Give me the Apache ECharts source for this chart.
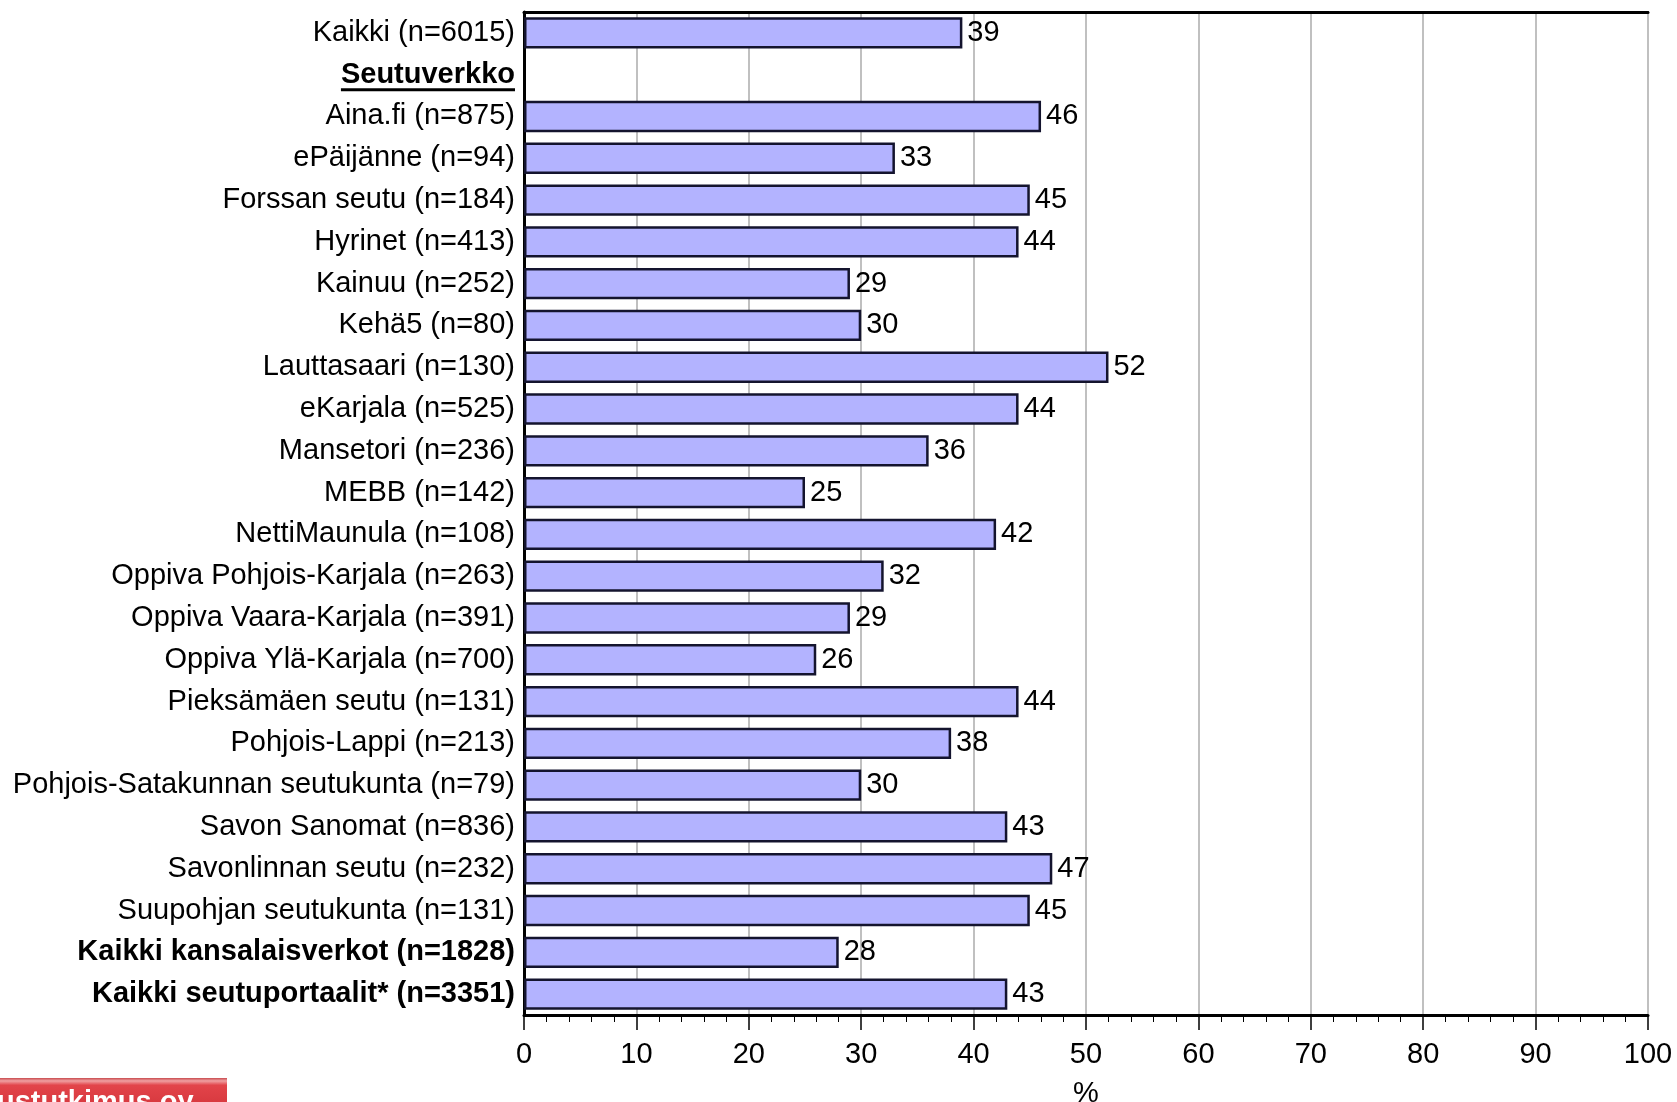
<!DOCTYPE html>
<html>
<head>
<meta charset="utf-8">
<script src="https://cdn.jsdelivr.net/npm/echarts@6/dist/echarts.min.js"></script>
<style>
html,body{margin:0;padding:0;background:#fff;}
#main{width:1677px;height:1102px;}
</style>
</head>
<body>
<div id="main"></div>
<script>
var categories = [
  'Kaikki (n=6015)', 'Seutuverkko', 'Aina.fi (n=875)', 'ePäijänne (n=94)',
  'Forssan seutu (n=184)', 'Hyrinet (n=413)', 'Kainuu (n=252)', 'Kehä5 (n=80)',
  'Lauttasaari (n=130)', 'eKarjala (n=525)', 'Mansetori (n=236)', 'MEBB (n=142)',
  'NettiMaunula (n=108)', 'Oppiva Pohjois-Karjala (n=263)', 'Oppiva Vaara-Karjala (n=391)',
  'Oppiva Ylä-Karjala (n=700)', 'Pieksämäen seutu (n=131)', 'Pohjois-Lappi (n=213)',
  'Pohjois-Satakunnan seutukunta (n=79)', 'Savon Sanomat (n=836)', 'Savonlinnan seutu (n=232)',
  'Suupohjan seutukunta (n=131)', 'Kaikki kansalaisverkot (n=1828)', 'Kaikki seutuportaalit* (n=3351)'
];
var values = [39, null, 46, 33, 45, 44, 29, 30, 52, 44, 36, 25, 42, 32, 29, 26, 44, 38, 30, 43, 47, 45, 28, 43];
var boldCategories = ['Kaikki kansalaisverkot (n=1828)', 'Kaikki seutuportaalit* (n=3351)'];
var headingCategory = 'Seutuverkko';
var xTicks = [0, 10, 20, 30, 40, 50, 60, 70, 80, 90, 100];
var xAxisName = '%';
var logoText = 'ustutkimus oy';

var FONT = '"Liberation Sans", Arial, sans-serif';
var FS = 29;
var gridLeft = 524, gridRight = 29, gridTop = 12, gridBottom = 87;

var chart = echarts.init(document.getElementById('main'), null, {renderer: 'canvas'});
var option = {
  animation: false,
  backgroundColor: '#ffffff',
  textStyle: {fontFamily: FONT},
  grid: {left: gridLeft, right: gridRight, top: gridTop, bottom: gridBottom, show: true,
         borderColor: '#555555', borderWidth: 2, containLabel: false, outerBoundsMode: 'none'},
  xAxis: [{
    type: 'value', min: xTicks[0], max: xTicks[xTicks.length - 1], interval: 10,
    position: 'bottom',
    name: xAxisName, nameLocation: 'middle', nameGap: 64,
    nameTextStyle: {fontSize: FS, color: '#000', fontFamily: FONT},
    axisLine: {show: true, onZero: false, lineStyle: {color: '#000', width: 3}},
    axisTick: {show: true, length: 15, inside: false, lineStyle: {color: '#000', width: 1.5}},
    minorTick: {show: true, splitNumber: 5, length: 7, lineStyle: {color: '#000', width: 1}},
    axisLabel: {fontSize: FS, color: '#000', margin: 25, fontFamily: FONT},
    splitLine: {show: true, lineStyle: {color: '#c0c0c0', width: 2}}
  }, {
    type: 'value', min: 0, max: 100, position: 'top',
    axisLine: {show: true, onZero: false, lineStyle: {color: '#000', width: 3}},
    axisTick: {show: false}, axisLabel: {show: false}, splitLine: {show: false}
  }],
  yAxis: {
    type: 'category', inverse: true, data: categories,
    axisLine: {show: true, onZero: false, lineStyle: {color: '#000', width: 3}},
    axisTick: {show: false},
    axisLabel: {
      fontSize: FS, color: '#000', margin: 9, fontFamily: FONT,
      formatter: function (v) {
        if (v === headingCategory) return '{h|' + v + '}';
        if (boldCategories.indexOf(v) >= 0) return '{b|' + v + '}';
        return v;
      },
      rich: {
        h: {fontSize: FS, fontWeight: 'bold', color: '#000', fontFamily: FONT},
        b: {fontSize: FS, fontWeight: 'bold', color: '#000', fontFamily: FONT}
      }
    }
  },
  series: [{
    type: 'bar', data: values, barCategoryGap: '25%',
    itemStyle: {color: '#b3b3ff', borderColor: '#14142e', borderWidth: 2.5},
    label: {show: true, position: 'right', distance: 5, fontSize: FS, color: '#000', fontFamily: FONT}
  }]
};
chart.setOption(option);

// underline for heading label, and logo strip
var yHead = chart.convertToPixel({yAxisIndex: 0}, headingCategory);
var ctx = document.createElement('canvas').getContext('2d');
ctx.font = 'bold ' + FS + 'px ' + FONT;
var wHead = ctx.measureText(headingCategory).width;
var xRight = gridLeft - 9;
chart.setOption({
  graphic: [
    {type: 'line', shape: {x1: xRight - wHead, y1: yHead + 15, x2: xRight, y2: yHead + 15},
     style: {stroke: '#000', lineWidth: 3}, z: 10},
    {type: 'rect', shape: {x: 0, y: 1078, width: 227, height: 24},
     style: {fill: new echarts.graphic.LinearGradient(0, 0, 0, 1, [
       {offset: 0, color: '#c84a4e'}, {offset: 0.12, color: '#f0a0a2'},
       {offset: 0.3, color: '#e2444a'}, {offset: 1, color: '#d93a40'}])}, z: 10},
    {type: 'text', x: -3, y: 1088,
     style: {text: logoText, fill: '#ffffff', font: 'bold 29px ' + FONT, textBaseline: 'top'}, z: 11}
  ]
});
</script>
</body>
</html>
